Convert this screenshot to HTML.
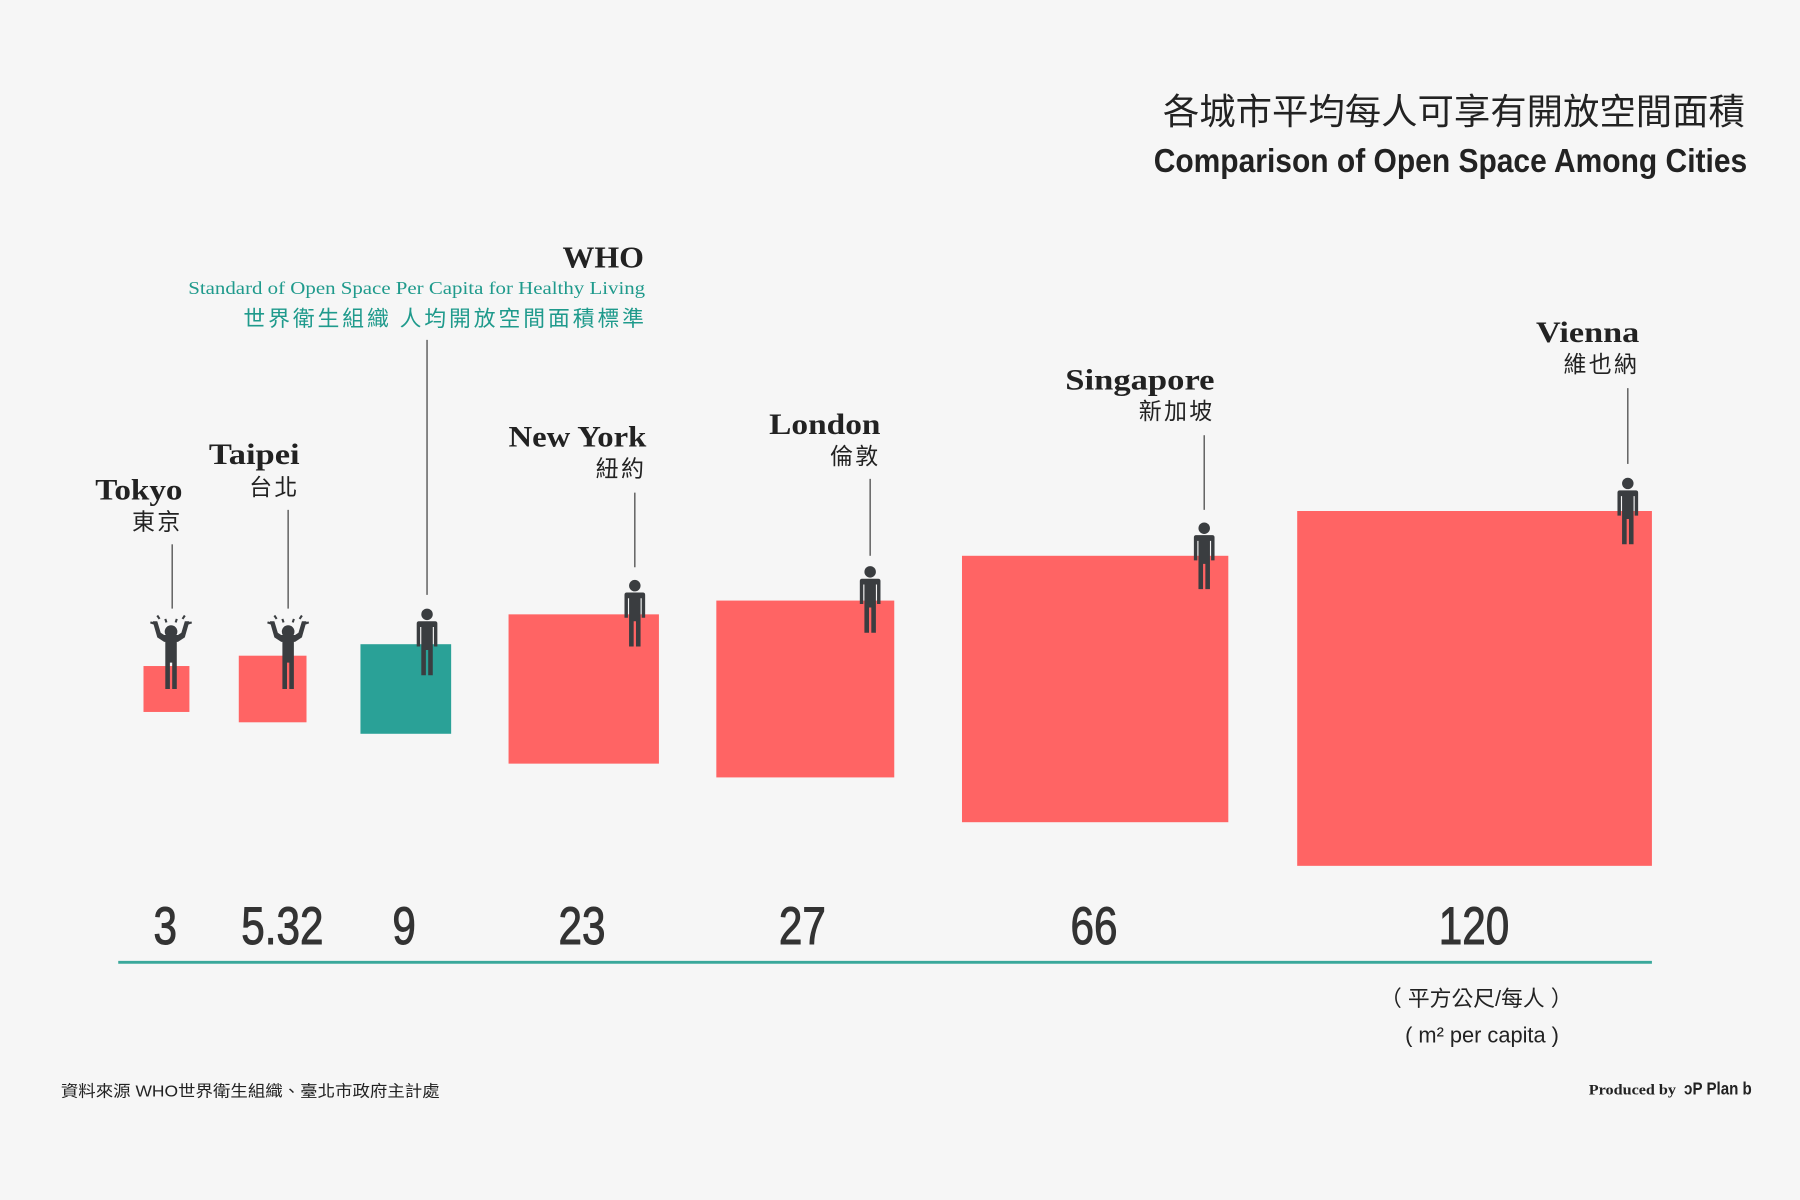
<!DOCTYPE html>
<html><head><meta charset="utf-8">
<style>
html,body{margin:0;padding:0;background:#f6f6f6;}
svg{display:block;}
.sl{font-family:"Liberation Serif","Noto Serif CJK SC",serif;font-weight:bold;fill:#222;}
.cj{font-family:"Liberation Sans","Noto Sans CJK TC",sans-serif;fill:#222;}
.num{font-family:"Liberation Sans",sans-serif;fill:#333;stroke:#333;stroke-width:0.9;}
</style></head>
<body>
<svg width="1800" height="1200" viewBox="0 0 1568 1045" preserveAspectRatio="none" xmlns="http://www.w3.org/2000/svg">
<defs>
<g id="p">
  <circle cx="0" cy="5" r="5" fill="#3a3d40"/>
  <path d="M-9,13 Q-9,11 -7,11 L7,11 Q9,11 9,13 L9,33 L6,33 L6,16 L5,16 L5,58 L1,58 L1,36 L-1,36 L-1,58 L-5,58 L-5,16 L-6,16 L-6,33 L-9,33 Z" fill="#3a3d40"/>
</g>
<g id="s">
  <circle cx="0" cy="13" r="5.5" fill="#3a3d40"/>
  <path d="M-16,4 L-12,4 L-9,14 L-6,16 L6,16 L9,14 L12,4 L16,4 L12,18 L6,22 L5,22 L5,63 L1,63 L1,40 L-1,40 L-1,63 L-5,63 L-5,22 L-6,22 L-12,18 Z" fill="#3a3d40"/>
  <g stroke="#3a3d40" stroke-width="1.8">
    <line x1="-5" y1="2" x2="-4" y2="5"/><line x1="5" y1="2" x2="4" y2="5"/>
    <line x1="-12" y1="-1" x2="-10" y2="2"/><line x1="12" y1="-1" x2="10" y2="2"/>
    <line x1="-18" y1="5" x2="-15" y2="6"/><line x1="18" y1="5" x2="15" y2="6"/>
  </g>
</g>
</defs>
<rect width="1568" height="1045" fill="#f6f6f6"/>

<text x="1520" y="108" text-anchor="end" class="cj" font-size="31" textLength="507" lengthAdjust="spacingAndGlyphs">各城市平均每人可享有開放空間面積</text>
<text x="1522" y="150" text-anchor="end" class="cj" font-size="29" font-weight="bold" textLength="517" lengthAdjust="spacingAndGlyphs">Comparison of Open Space Among Cities</text>

<text x="561" y="233" text-anchor="end" class="sl" font-size="27" textLength="71" lengthAdjust="spacingAndGlyphs">WHO</text>
<text x="562" y="256" text-anchor="end" font-family="Liberation Serif,serif" font-size="16" fill="#1f9a8c" textLength="398" lengthAdjust="spacingAndGlyphs">Standard of Open Space Per Capita for Healthy Living</text>
<text x="561" y="284" text-anchor="end" font-family="'Noto Sans CJK TC',sans-serif" font-size="19" fill="#1f9a8c" textLength="349" lengthAdjust="spacing">世界衛生組織 人均開放空間面積標準</text>

<g class="sl" font-size="26" text-anchor="end">
<text x="159" y="435" textLength="76" lengthAdjust="spacingAndGlyphs">Tokyo</text>
<text x="261" y="404" textLength="79" lengthAdjust="spacingAndGlyphs">Taipei</text>
<text x="563" y="389" textLength="120" lengthAdjust="spacingAndGlyphs">New York</text>
<text x="767" y="378" textLength="97" lengthAdjust="spacingAndGlyphs">London</text>
<text x="1058" y="339" textLength="130" lengthAdjust="spacingAndGlyphs">Singapore</text>
<text x="1428" y="298" textLength="90" lengthAdjust="spacingAndGlyphs">Vienna</text>
</g>
<g class="cj" font-size="20" text-anchor="end" letter-spacing="2">
<text x="159" y="461">東京</text>
<text x="261" y="431">台北</text>
<text x="563" y="415">紐約</text>
<text x="767" y="404">倫敦</text>
<text x="1058" y="365">新加坡</text>
<text x="1428" y="324">維也納</text>
</g>

<g stroke="#555" stroke-width="1.2">
<line x1="150" y1="474" x2="150" y2="530"/>
<line x1="251" y1="444" x2="251" y2="530"/>
<line x1="372" y1="296" x2="372" y2="518"/>
<line x1="553" y1="429" x2="553" y2="494"/>
<line x1="758" y1="417" x2="758" y2="484"/>
<line x1="1049" y1="379" x2="1049" y2="444"/>
<line x1="1418" y1="338" x2="1418" y2="404"/>
</g>

<g fill="#ff6464">
<rect x="125" y="580" width="40" height="40"/>
<rect x="208" y="571" width="59" height="58"/>
<rect x="443" y="535" width="131" height="130"/>
<rect x="624" y="523" width="155" height="154"/>
<rect x="838" y="484" width="232" height="232"/>
<rect x="1130" y="445" width="309" height="309"/>
</g>
<rect x="314" y="561" width="79" height="78" fill="#2aa197"/>

<use href="#s" x="149" y="537"/>
<use href="#s" x="251" y="537"/>
<use href="#p" x="372" y="530"/>
<use href="#p" x="553" y="505"/>
<use href="#p" x="758" y="493"/>
<use href="#p" x="1049" y="455"/>
<use href="#p" x="1418" y="416"/>

<g class="num" font-size="46" text-anchor="middle">
<text x="144" y="822" transform="translate(144 0) scale(0.8 1) translate(-144 0)">3</text>
<text x="246" y="822" transform="translate(246 0) scale(0.8 1) translate(-246 0)">5.32</text>
<text x="352" y="822" transform="translate(352 0) scale(0.8 1) translate(-352 0)">9</text>
<text x="507" y="822" transform="translate(507 0) scale(0.8 1) translate(-507 0)">23</text>
<text x="699" y="822" transform="translate(699 0) scale(0.8 1) translate(-699 0)">27</text>
<text x="953" y="822" transform="translate(953 0) scale(0.8 1) translate(-953 0)">66</text>
<text x="1284" y="822" transform="translate(1284 0) scale(0.8 1) translate(-1284 0)">120</text>
</g>
<line x1="103" y1="838" x2="1439" y2="838" stroke="#3aa89b" stroke-width="2.5"/>

<text x="1286" y="876" text-anchor="middle" class="cj" font-size="19" fill="#333">（ 平方公尺/每人 ）</text>
<text x="1291" y="908" text-anchor="middle" class="cj" font-size="19" fill="#333">( m² per capita )</text>

<text x="53" y="955" class="cj" font-size="14" textLength="330" lengthAdjust="spacingAndGlyphs">資料來源  WHO世界衛生組織、臺北市政府主計處</text>
<text x="1384" y="953" font-family="Liberation Serif,serif" font-weight="bold" font-size="13" fill="#222" textLength="76" lengthAdjust="spacingAndGlyphs">Produced by</text>
<text x="1467" y="953" font-family="Liberation Sans,sans-serif" font-weight="bold" font-size="15" fill="#222" textLength="59" lengthAdjust="spacingAndGlyphs">ↄP Plan b</text>
</svg>
</body></html>
